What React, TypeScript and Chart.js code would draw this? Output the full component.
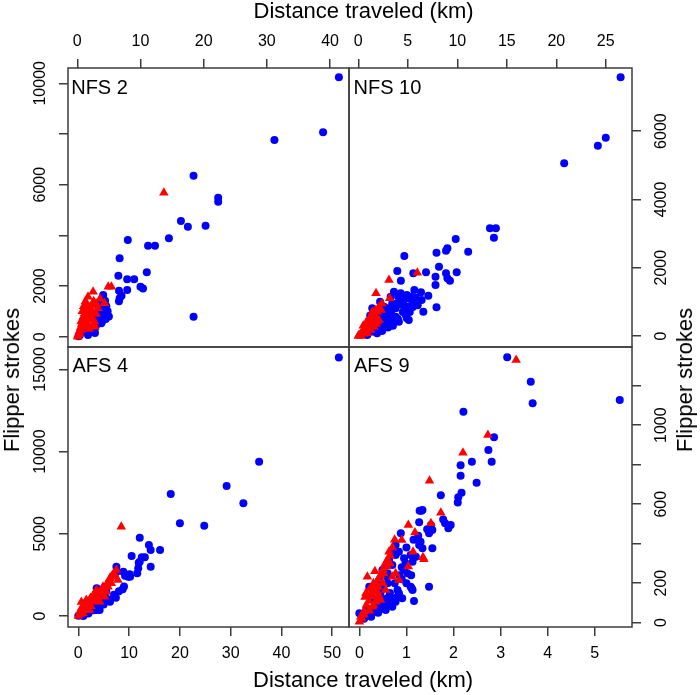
import React, { useEffect, useRef } from 'react';
import { Chart, registerables } from 'chart.js';

Chart.register(...registerables);

const FONT = "'Liberation Sans', Arial, Helvetica, sans-serif";

// ---------- NFS 2 ----------
const nfs2CircleKm = [41.4, 38.9, 31.2, 18.4, 22.3, 22.3, 16.4, 17.5, 20.3, 8.0, 14.5, 11.2, 12.3, 6.7, 11.0, 6.5, 7.9, 9.0, 10.0, 10.4, 7.9, 6.6, 7.0, 6.7, 6.6, 18.4, 4.1, 3.8, 4.4, 3.6, 3.3, 4.4, 4.3, 4.3, 4.1, 4.07, 3.1, 3.8, 3.9, 2.5, 2.8, 1.2, 1.7, 1.6, 0.7, 0.4, 0.2, 1.0, 2.0, 3.0, 4.6, 4.8, 5.0, 4.5, 3.5, 3.0, 2.2, 2.8];
const nfs2CircleStrokes = [10236, 8066, 7762, 6353, 5485, 5327, 4566, 4341, 4380, 3816, 3883, 3591, 3591, 3094, 2541, 2407, 2265, 2265, 1973, 1900, 1843, 1810, 1618, 1513, 1400, 789, 1645, 1382, 1421, 1211, 1184, 1080, 1053, 923, 895, 726, 765, 527, 592, 395, 330, 462, 67, 150, 197, 60, 20, 300, 250, 450, 1200, 1000, 800, 700, 900, 600, 200, 150];
const nfs2TriangleKm = [13.7, 4.9, 5.4, 2.5, 1.7, 1.4, 1.8, 3.3, 4.3, 2.2, 0.95, 0.9, 2.0, 2.75, 0.63, 0.43, 0.05, 0.38, 1.42, 2.8, 1.17, 0.2, 0.8, 1.5, 2.4, 3.0, 0.6, 1.9, 2.6, 0.1, 0.3, 0.5, 0.7, 1.0, 1.2, 1.5, 1.8, 2.1, 2.3, 2.6, 1.0, 1.3, 0.8, 3.6, 3.0];
const nfs2TriangleStrokes = [5683, 1973, 1973, 1776, 1579, 1120, 1184, 1120, 1318, 789, 789, 659, 659, 592, 264, 264, 30, 134, 395, 395, 923, 100, 450, 560, 1000, 900, 600, 300, 480, 0, 200, 350, 500, 600, 700, 850, 950, 1100, 1250, 1400, 1200, 1400, 1000, 1500, 1300];

// ---------- NFS 10 ----------
const nfs10CircleKm = [26.5, 25.0, 24.2, 20.8, 13.3, 13.9, 13.7, 9.84, 11.1, 9.0, 8.86, 7.9, 4.65, 8.15, 9.94, 6.84, 5.56, 3.94, 8.86, 7.8, 9.0, 9.26, 4.3, 7.8, 5.66, 6.33, 4.9, 7.07, 6.4, 7.9, 6.57, 4.9, 5.1, 4.6, 4.95, 5.3, 4.45, 4.95, 5.45, 3.43, 3.78, 3.1, 2.6, 2.77, 2.26, 3.1, 3.78, 3.6, 4.1, 2.42, 1.92, 1.41, 1.08, 1.59, 0.91, 2.77, 2.09, 3.1, 1.41, 1.76, 3.27, 4.28, 3.6, 4.04, 4.8, 5.5, 5.8, 2.2, 1.2, 0.5, 2.5, 3.0, 3.5, 4.0, 4.5, 5.0, 5.5, 3.3, 3.9, 2.8, 2.0, 1.6, 4.2, 5.2, 6.0, 2.4, 1.9];
const nfs10CircleStrokes = [7575, 5806, 5572, 5057, 3153, 3153, 2878, 2840, 2468, 2568, 2498, 2439, 2342, 2030, 1865, 1865, 1836, 1903, 1836, 1737, 1689, 1619, 1619, 1493, 1347, 1280, 1200, 1180, 1054, 840, 712, 518, 468, 1054, 1104, 1151, 908, 858, 957, 957, 811, 811, 858, 712, 615, 565, 565, 419, 419, 468, 322, 272, 176, 126, 29, 272, 176, 372, 811, 664, 1151, 1250, 1297, 1150, 615, 1000, 1120, 1000, 600, 100, 300, 250, 300, 500, 700, 800, 850, 700, 950, 500, 400, 450, 1050, 700, 900, 150, 80];
const nfs10TriangleKm = [5.96, 3.1, 1.79, 3.17, 0.0, 0.07, 0.4, 0.75, 1.08, 1.41, 1.76, 1.92, 2.09, 0.24, 0.91, 1.25, 1.59, 2.09, 1.41, 1.92, 0.5, 1.0, 1.3, 2.3, 2.4, 1.6, 0.6, 1.8, 0.3, 0.6, 0.9, 1.2, 1.5, 1.7, 2.0, 0.8, 1.1, 1.4, 0.5];
const nfs10TriangleStrokes = [1854, 1640, 1250, 1104, 0, 29, 126, 225, 322, 419, 565, 712, 858, 0, 79, 176, 272, 468, 565, 419, 60, 250, 380, 760, 950, 650, 180, 350, 80, 150, 300, 450, 600, 750, 800, 400, 500, 700, 300];

// ---------- AFS 4 ----------
const afs4CircleKm = [51.3, 35.6, 29.2, 32.5, 18.2, 20.0, 24.8, 12.1, 13.9, 14.25, 16.1, 10.5, 12.5, 13.1, 12.1, 14.25, 11.8, 11.6, 10.2, 9.2, 7.56, 8.86, 8.74, 7.4, 6.24, 3.62, 3.62, 1.65, 0.0, 1.0, 11.9, 7.5, 9.8, 10.1, 4.2, 3.9, 2.0, 5.5, 6.0, 4.8, 2.8, 1.2, 5.2, 1.0, 2.0, 3.0, 4.0, 5.0, 6.0, 7.0, 8.0, 9.0, 3.5, 2.5, 0.5];
const afs4CircleStrokes = [15729, 9381, 7904, 6852, 7418, 5636, 5490, 4761, 4317, 4013, 4013, 3648, 3569, 3569, 3301, 2997, 2900, 2596, 2389, 2450, 2693, 2693, 1623, 1112, 869, 365, 1684, 261, 20, 0, 3240, 2997, 2389, 2535, 365, 468, 150, 1500, 2000, 900, 600, 300, 1250, 150, 300, 350, 600, 700, 1000, 1300, 1500, 1800, 800, 450, 50];
const afs4TriangleKm = [8.46, 7.5, 7.2, 7.8, 6.5, 5.85, 5.5, 4.5, 3.9, 3.2, 2.9, 1.9, 1.26, 0.6, 0.28, 0.0, 0.93, 2.2, 3.55, 4.86, 6.2, 6.8, 4.2, 5.2, 1.57, 3.0, 2.5, 1.5, 4.0, 0.6, 0.5, 1.0, 1.5, 2.0, 2.5, 3.0, 3.5, 4.0, 4.5, 5.0, 5.5, 6.0, 6.5, 7.0, 1.2, 2.4, 3.4, 0.3];
const afs4TriangleStrokes = [5429, 2797, 2389, 2189, 1988, 1781, 1477, 1380, 1173, 1076, 869, 772, 565, 468, 261, 0, 164, 365, 1580, 1781, 2292, 2493, 869, 1173, 973, 1300, 600, 350, 1000, 850, 250, 400, 550, 700, 900, 1000, 1200, 1400, 1550, 1650, 1900, 2100, 2400, 2600, 750, 1100, 1450, 100];

// ---------- AFS 9 ----------
const afs9CircleKm = [3.14, 3.64, 3.68, 5.53, 2.21, 2.86, 2.74, 2.81, 2.39, 2.15, 2.15, 2.49, 1.73, 2.17, 2.10, 2.09, 1.32, 1.28, 1.34, 1.27, 1.78, 1.82, 1.94, 1.89, 1.52, 1.55, 1.48, 1.44, 0.88, 1.3, 1.27, 1.34, 1.55, 0.77, 0.7, 0.84, 0.77, 0.95, 1.09, 0.98, 1.13, 1.2, 0.63, 0.7, 1.48, 1.09, 1.13, 1.16, 0.84, 0.91, 0.77, 0.63, 0.52, 0.42, 0.56, 0.35, 0.7, 0.81, 0.0, 0.49, 0.59, 0.42, 0.95, 1.02, 0.21, 1.11, 0.6, 0.3, 0.45, 0.25, 0.15, 0.9, 0.3, 0.4, 0.5, 0.6, 0.7, 0.8, 1.0, 1.1, 0.9, 1.0, 1.15, 1.25, 0.6, 0.5, 0.4, 0.2, 0.1, 0.55, 0.65, 0.75, 0.85];
const afs9CircleStrokes = [1344, 1220, 1111, 1128, 1068, 939, 874, 815, 815, 797, 744, 709, 645, 658, 635, 608, 567, 567, 570, 508, 523, 503, 494, 478, 494, 469, 453, 473, 453, 410, 393, 377, 377, 393, 368, 359, 343, 326, 343, 301, 309, 334, 317, 292, 182, 182, 166, 110, 149, 124, 106, 132, 98, 81, 64, 56, 81, 166, 48, 267, 233, 216, 267, 250, 182, 174, 200, 120, 150, 30, 70, 220, 60, 50, 70, 90, 120, 130, 200, 240, 280, 380, 420, 440, 250, 180, 100, 40, 20, 120, 150, 200, 240];
const afs9TriangleKm = [3.33, 2.73, 2.20, 1.49, 1.73, 1.04, 1.52, 1.18, 0.9, 0.63, 1.14, 1.35, 1.37, 1.04, 0.59, 0.77, 0.7, 0.84, 0.17, 0.14, 0.31, 0.38, 0.42, 0.35, 0.28, 0.21, 0.1, 0.03, 0.0, 0.49, 0.56, 0.45, 0.24, 0.52, 0.3, 0.65, 0.4, 0.05, 0.1, 0.15, 0.2, 0.25, 0.3, 0.35, 0.4, 0.45, 0.5, 0.55, 0.6, 0.65, 0.2, 0.3, 0.4, 0.5, 0.7, 0.75, 0.12, 0.22, 0.33];
const afs9TriangleStrokes = [1330, 950, 861, 719, 557, 494, 503, 456, 419, 359, 359, 331, 321, 284, 284, 250, 233, 216, 233, 149, 182, 157, 132, 106, 81, 64, 56, 30, 5, 199, 166, 115, 132, 250, 200, 300, 220, 20, 40, 90, 110, 150, 160, 190, 180, 240, 270, 300, 320, 340, 60, 90, 140, 200, 380, 420, 130, 170, 260];

// ---------- ticks ----------
const nfs2XTicks = [0, 10, 20, 30, 40];
const nfs2XLabels = ['0', '10', '20', '30', '40'];
const nfs2YTicks = [0, 2000, 4000, 6000, 8000, 10000];
const nfs2YLabels = ['0', '2000', '', '6000', '', '10000'];

const nfs10XTicks = [0, 5, 10, 15, 20, 25];
const nfs10XLabels = ['0', '5', '10', '15', '20', '25'];
const nfs10YTicks = [0, 2000, 4000, 6000];
const nfs10YLabels = ['0', '2000', '4000', '6000'];

const afs4XTicks = [0, 10, 20, 30, 40, 50];
const afs4XLabels = ['0', '10', '20', '30', '40', '50'];
const afs4YTicks = [0, 5000, 10000, 15000];
const afs4YLabels = ['0', '5000', '10000', '15000'];

const afs9XTicks = [0, 1, 2, 3, 4, 5];
const afs9XLabels = ['0', '1', '2', '3', '4', '5'];
const afs9YTicks = [0, 200, 400, 600, 800, 1000, 1200];
const afs9YLabels = ['0', '200', '', '600', '', '1000', ''];

const AXIS_TITLE_X = 'Distance traveled (km)';
const AXIS_TITLE_Y = 'Flipper strokes';

type Panel = {
  name: string;
  cx: number[]; cy: number[]; tx: number[]; ty: number[];
  xTicks: number[]; xLabels: string[]; yTicks: number[]; yLabels: string[];
  xRange: [number, number]; yRange: [number, number];
  xPos: 'top' | 'bottom'; yPos: 'left' | 'right';
  padding: { left: number; top: number; right: number; bottom: number };
};

const panels: Panel[] = [
  {
    name: 'NFS 2', cx: nfs2CircleKm, cy: nfs2CircleStrokes, tx: nfs2TriangleKm, ty: nfs2TriangleStrokes,
    xTicks: nfs2XTicks, xLabels: nfs2XLabels, yTicks: nfs2YTicks, yLabels: nfs2YLabels,
    xRange: [-1.47, 43.0], yRange: [-406, 10604], xPos: 'top', yPos: 'left',
    padding: { left: 0, top: 0, right: 351, bottom: 348 },
  },
  {
    name: 'NFS 10', cx: nfs10CircleKm, cy: nfs10CircleStrokes, tx: nfs10TriangleKm, ty: nfs10TriangleStrokes,
    xTicks: nfs10XTicks, xLabels: nfs10XLabels, yTicks: nfs10YTicks, yLabels: nfs10YLabels,
    xRange: [-0.94, 27.65], yRange: [-322, 7848], xPos: 'top', yPos: 'right',
    padding: { left: 349, top: 0, right: 0, bottom: 348 },
  },
  {
    name: 'AFS 4', cx: afs4CircleKm, cy: afs4CircleStrokes, tx: afs4TriangleKm, ty: afs4TriangleStrokes,
    xTicks: afs4XTicks, xLabels: afs4XLabels, yTicks: afs4YTicks, yLabels: afs4YLabels,
    xRange: [-2.03, 53.3], yRange: [-669, 16363], xPos: 'bottom', yPos: 'left',
    padding: { left: 0, top: 347, right: 351, bottom: 0 },
  },
  {
    name: 'AFS 9', cx: afs9CircleKm, cy: afs9CircleStrokes, tx: afs9TriangleKm, ty: afs9TriangleStrokes,
    xTicks: afs9XTicks, xLabels: afs9XLabels, yTicks: afs9YTicks, yLabels: afs9YLabels,
    xRange: [-0.22, 5.79], yRange: [-22, 1396], xPos: 'bottom', yPos: 'right',
    padding: { left: 349, top: 347, right: 0, bottom: 0 },
  },
];

const LINE = '#3c3c3c';

const framePlugin = {
  id: 'panelFrame',
  afterDraw(chart: any) {
    const { ctx, chartArea: a } = chart;
    ctx.save();
    ctx.strokeStyle = LINE;
    ctx.lineWidth = 1.5;
    ctx.strokeRect(a.left, a.top, a.right - a.left, a.bottom - a.top);
    ctx.restore();
  },
};

function zip(xs: number[], ys: number[]) {
  return xs.map((x, i) => ({ x, y: ys[i] }));
}

function buildConfig(p: Panel): any {
  const tickFont = { family: FONT, size: 16 };
  const yPad = p.yPos === 'left' ? -4.25 : 2.7;
  return {
    type: 'scatter',
    data: {
      datasets: [
        {
          label: 'triangles', data: zip(p.tx, p.ty), pointStyle: 'triangle', pointRadius: 5.5,
          backgroundColor: '#ff0000', borderColor: '#ff0000', pointBorderWidth: 0, borderWidth: 0, order: 0,
        },
        {
          label: 'circles', data: zip(p.cx, p.cy), pointStyle: 'circle', pointRadius: 4,
          backgroundColor: '#0000ff', borderColor: '#0000ff', pointBorderWidth: 0, borderWidth: 0, order: 1,
        },
      ],
    },
    options: {
      responsive: false,
      animation: false,
      events: [],
      layout: { padding: p.padding },
      plugins: { legend: { display: false }, tooltip: { enabled: false }, title: { display: false } },
      scales: {
        x: {
          type: 'linear', position: p.xPos, min: p.xRange[0], max: p.xRange[1],
          afterFit: (s: any) => { s.height = 68; },
          afterBuildTicks: (s: any) => { s.ticks = p.xTicks.map((v) => ({ value: v })); },
          ticks: {
            autoSkip: false, minRotation: 0, maxRotation: 0, padding: 8.3, font: tickFont, color: '#000',
            callback: (v: number) => { const i = p.xTicks.indexOf(v); return i >= 0 ? p.xLabels[i] : ''; },
          },
          grid: { drawOnChartArea: false, drawTicks: true, tickLength: 9, color: LINE, lineWidth: 1.5 },
          border: { display: false },
        },
        y: {
          type: 'linear', position: p.yPos, min: p.yRange[0], max: p.yRange[1],
          afterFit: (s: any) => { s.width = 68; },
          afterBuildTicks: (s: any) => { s.ticks = p.yTicks.map((v) => ({ value: v })); },
          ticks: {
            autoSkip: false, minRotation: 90, maxRotation: 90, crossAlign: 'center', padding: yPad,
            font: tickFont, color: '#000',
            callback: (v: number) => { const i = p.yTicks.indexOf(v); return i >= 0 ? p.yLabels[i] : ''; },
          },
          grid: { drawOnChartArea: false, drawTicks: true, tickLength: 9, color: LINE, lineWidth: 1.5 },
          border: { display: false },
        },
      },
    },
    plugins: [framePlugin],
  };
}

function PanelChart({ panel }: { panel: Panel }) {
  const ref = useRef<HTMLCanvasElement>(null);
  useEffect(() => {
    if (!ref.current) return;
    const chart = new Chart(ref.current, buildConfig(panel));
    return () => chart.destroy();
  }, [panel]);
  return (
    <canvas
      ref={ref}
      width={700}
      height={695}
      style={{ position: 'absolute', left: 0, top: 0, width: 700, height: 695 }}
    />
  );
}

const textBase: React.CSSProperties = {
  position: 'absolute',
  fontFamily: FONT,
  color: '#000',
  whiteSpace: 'nowrap',
  margin: 0,
};

const panelLabelPos = [
  { left: 71.2, top: 77.4 },
  { left: 353.5, top: 77.4 },
  { left: 72.5, top: 355.4 },
  { left: 354, top: 355.4 },
];

export default function App() {
  return (
    <div style={{ position: 'absolute', left: 0, top: 0, width: 700, height: 695, background: '#fff', overflow: 'hidden' }}>
      {panels.map((p) => (
        <PanelChart key={p.name} panel={p} />
      ))}
      {panels.map((p, i) => (
        <div key={'lbl' + p.name} style={{ ...textBase, fontSize: 20, lineHeight: '20px', left: panelLabelPos[i].left, top: panelLabelPos[i].top }}>
          {p.name}
        </div>
      ))}
      <div style={{ ...textBase, fontSize: 22, lineHeight: '22px', left: 253.5, top: 0 }}>{AXIS_TITLE_X}</div>
      <div style={{ ...textBase, fontSize: 22, lineHeight: '22px', left: 253, top: 669.4 }}>{AXIS_TITLE_X}</div>
      <div style={{ ...textBase, fontSize: 22, lineHeight: '22px', left: 11.9, top: 380, transform: 'translate(-50%, -50%) rotate(-90deg)' }}>
        {AXIS_TITLE_Y}
      </div>
      <div style={{ ...textBase, fontSize: 22, lineHeight: '22px', left: 684.9, top: 380, transform: 'translate(-50%, -50%) rotate(-90deg)' }}>
        {AXIS_TITLE_Y}
      </div>
    </div>
  );
}
